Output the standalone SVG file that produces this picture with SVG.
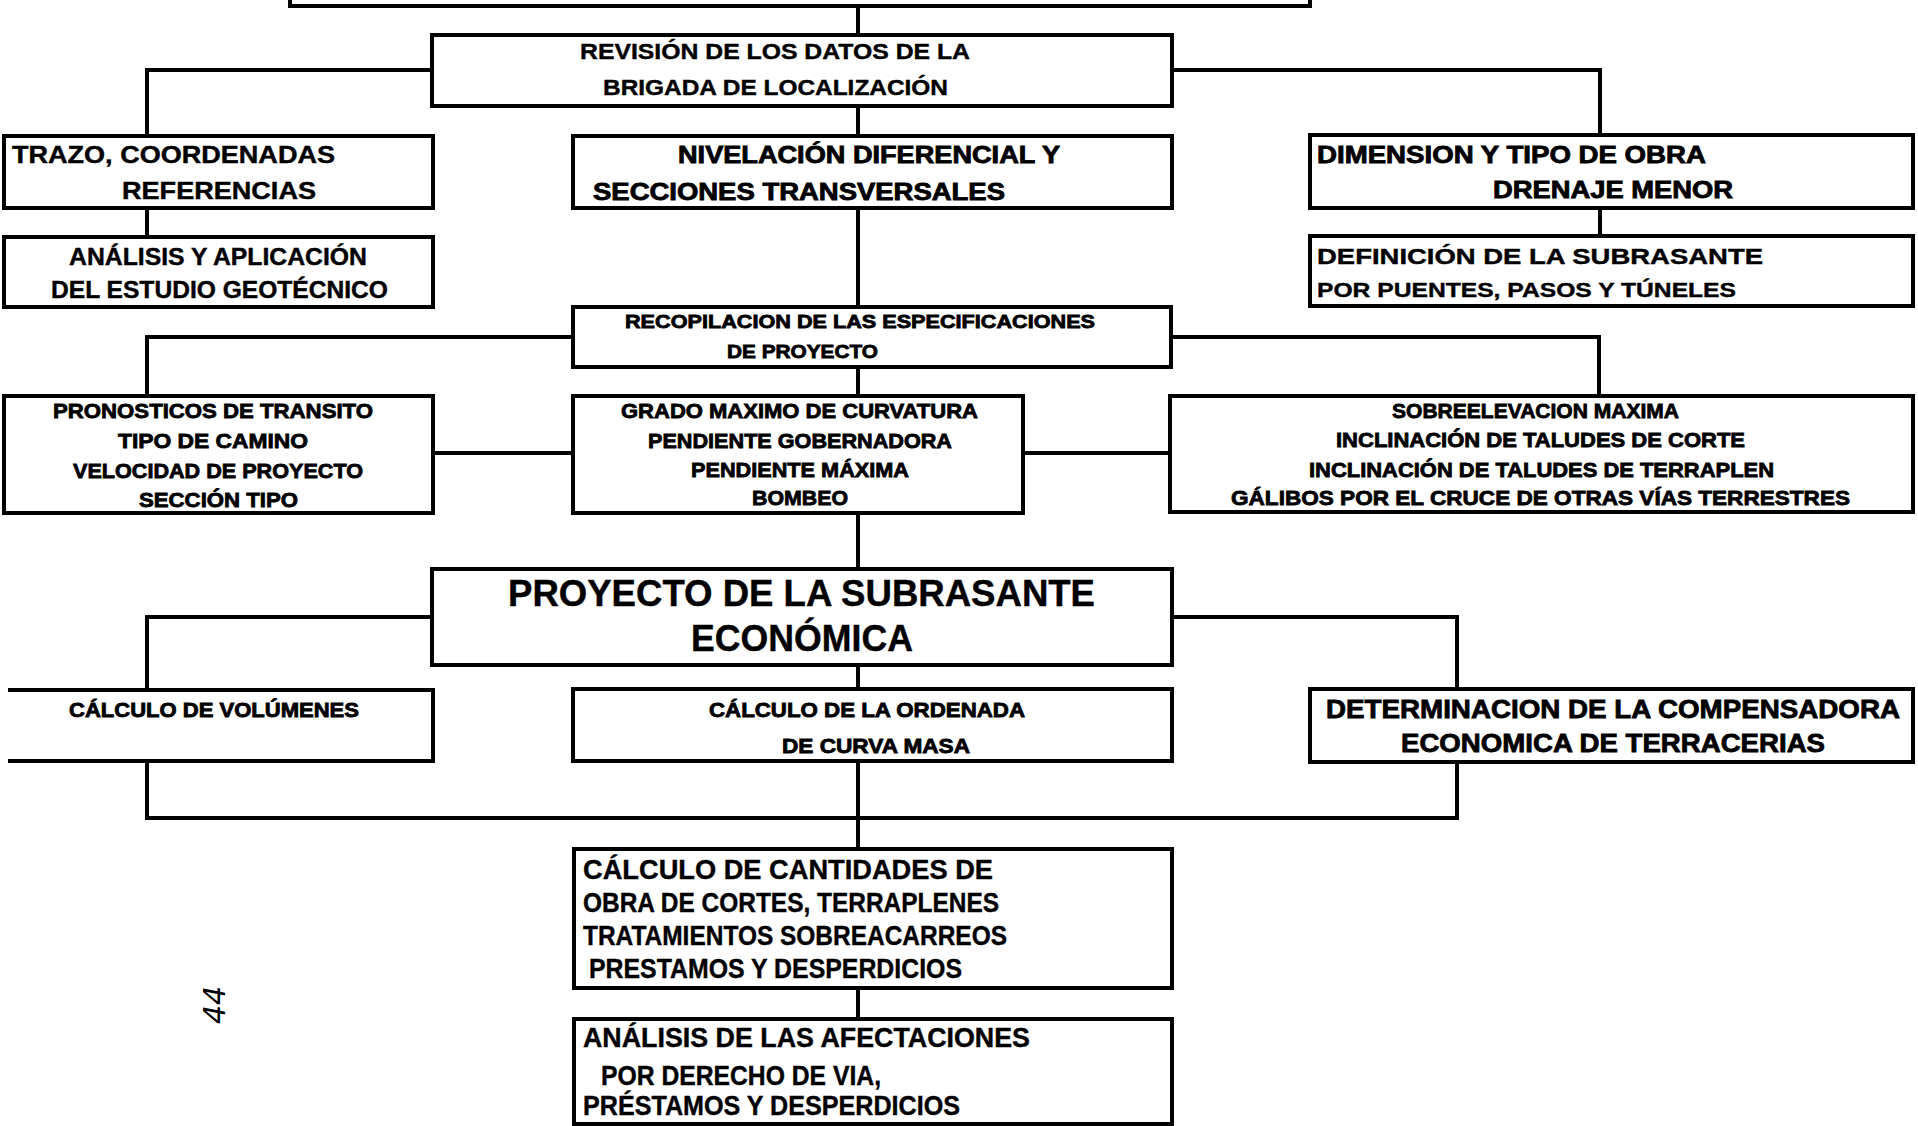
<svg xmlns="http://www.w3.org/2000/svg" width="1918" height="1126" viewBox="0 0 1918 1126">
<style>
.box{fill:#fff;stroke:#000;stroke-width:4}
.ln{fill:none;stroke:#000;stroke-width:4}
text{font-family:"Liberation Sans",Arial,sans-serif;font-weight:bold;fill:#000}
.f22{font-size:23px}.f21{font-size:22px}.f20{font-size:21px}.f18{font-size:19px}.f19{font-size:20px}
.f25{font-size:26px}.f26{font-size:27px}.f36{font-size:37px}
.hv{stroke:#000;stroke-width:0.8}
.md{stroke:#000;stroke-width:0.4}
.hand{font-family:"DejaVu Sans",sans-serif;font-weight:normal;font-style:italic;font-size:30px}
</style>
<rect width="1918" height="1126" fill="#fff"/>
<g id="connectors">
<path class="ln" d="M858,6V35M858,106V136M858,208V307M858,367V396M858,513V569M858,665V689M858,761V849M858,988V1019"/>
<path class="ln" d="M432,70H147V136M1172,70H1600V135"/>
<path class="ln" d="M147,208V237M1600,208V236"/>
<path class="ln" d="M573,337H147V396M1171,337H1599V396"/>
<path class="ln" d="M433,453H573M1023,453H1170"/>
<path class="ln" d="M432,617H147V690M1172,617H1457V689"/>
<path class="ln" d="M147,761V818H1457V762"/>
</g>
<g id="top"><rect class="box" x="290" y="-20" width="1020" height="26"/></g>
<g id="revision"><rect class="box" x="432" y="35" width="740" height="71"/>
<text class="f21 md" x="580" y="59" textLength="390" lengthAdjust="spacingAndGlyphs">REVISIÓN DE LOS DATOS DE LA</text>
<text class="f21 md" x="603" y="95" textLength="345" lengthAdjust="spacingAndGlyphs">BRIGADA DE LOCALIZACIÓN</text></g>
<g id="trazo"><rect class="box" x="4" y="136" width="429" height="72"/>
<text class="f22 md" x="12" y="163" textLength="323" lengthAdjust="spacingAndGlyphs">TRAZO, COORDENADAS</text>
<text class="f22 md" x="122" y="199" textLength="194" lengthAdjust="spacingAndGlyphs">REFERENCIAS</text></g>
<g id="nivelacion"><rect class="box" x="573" y="136" width="599" height="72"/>
<text class="f22 hv" x="678" y="163" textLength="382" lengthAdjust="spacingAndGlyphs">NIVELACIÓN DIFERENCIAL Y</text>
<text class="f22 hv" x="593" y="200" textLength="412" lengthAdjust="spacingAndGlyphs">SECCIONES TRANSVERSALES</text></g>
<g id="dimension"><rect class="box" x="1310" y="135" width="603" height="73"/>
<text class="f22 hv" x="1317" y="163" textLength="389" lengthAdjust="spacingAndGlyphs">DIMENSION Y TIPO DE OBRA</text>
<text class="f22 hv" x="1493" y="198" textLength="240" lengthAdjust="spacingAndGlyphs">DRENAJE MENOR</text></g>
<g id="analisis"><rect class="box" x="4" y="237" width="429" height="70"/>
<text class="f22 md" x="69" y="265" textLength="298" lengthAdjust="spacingAndGlyphs">ANÁLISIS Y APLICACIÓN</text>
<text class="f22 md" x="51" y="298" textLength="337" lengthAdjust="spacingAndGlyphs">DEL ESTUDIO GEOTÉCNICO</text></g>
<g id="definicion"><rect class="box" x="1310" y="236" width="603" height="70"/>
<text class="f21 md" x="1317" y="264" textLength="446" lengthAdjust="spacingAndGlyphs">DEFINICIÓN DE LA SUBRASANTE</text>
<text class="f20 md" x="1317" y="297" textLength="419" lengthAdjust="spacingAndGlyphs">POR PUENTES, PASOS Y TÚNELES</text></g>
<g id="recopilacion"><rect class="box" x="573" y="307" width="598" height="60"/>
<text class="f18 hv" x="625" y="328" textLength="470" lengthAdjust="spacingAndGlyphs">RECOPILACION DE LAS ESPECIFICACIONES</text>
<text class="f18 hv" x="727" y="358" textLength="151" lengthAdjust="spacingAndGlyphs">DE PROYECTO</text></g>
<g id="pronosticos"><rect class="box" x="4" y="396" width="429" height="117"/>
<text class="f20 hv" x="53" y="418" textLength="320" lengthAdjust="spacingAndGlyphs">PRONOSTICOS  DE TRANSITO</text>
<text class="f20 hv" x="118" y="448" textLength="190" lengthAdjust="spacingAndGlyphs">TIPO DE CAMINO</text>
<text class="f20 hv" x="73" y="478" textLength="290" lengthAdjust="spacingAndGlyphs">VELOCIDAD DE PROYECTO</text>
<text class="f20 hv" x="139" y="507" textLength="159" lengthAdjust="spacingAndGlyphs">SECCIÓN TIPO</text></g>
<g id="grado"><rect class="box" x="573" y="396" width="450" height="117"/>
<text class="f20 hv" x="621" y="418" textLength="357" lengthAdjust="spacingAndGlyphs">GRADO MAXIMO DE CURVATURA</text>
<text class="f20 hv" x="648" y="448" textLength="304" lengthAdjust="spacingAndGlyphs">PENDIENTE GOBERNADORA</text>
<text class="f20 hv" x="691" y="477" textLength="218" lengthAdjust="spacingAndGlyphs">PENDIENTE MÁXIMA</text>
<text class="f20 hv" x="752" y="505" textLength="96" lengthAdjust="spacingAndGlyphs">BOMBEO</text></g>
<g id="sobreelevacion"><rect class="box" x="1170" y="396" width="743" height="116"/>
<text class="f20 hv" x="1392" y="418" textLength="287" lengthAdjust="spacingAndGlyphs">SOBREELEVACION MAXIMA</text>
<text class="f20 hv" x="1336" y="447" textLength="409" lengthAdjust="spacingAndGlyphs">INCLINACIÓN DE TALUDES DE CORTE</text>
<text class="f20 hv" x="1309" y="477" textLength="465" lengthAdjust="spacingAndGlyphs">INCLINACIÓN DE TALUDES DE TERRAPLEN</text>
<text class="f20 hv" x="1231" y="505" textLength="619" lengthAdjust="spacingAndGlyphs">GÁLIBOS  POR EL CRUCE DE OTRAS  VÍAS TERRESTRES</text></g>
<g id="proyecto"><rect class="box" x="432" y="569" width="740" height="96"/>
<text class="f36 md" x="508" y="606" textLength="587" lengthAdjust="spacingAndGlyphs">PROYECTO DE LA  SUBRASANTE</text>
<text class="f36 md" x="691" y="651" textLength="222" lengthAdjust="spacingAndGlyphs">ECONÓMICA</text></g>
<g id="volumenes"><rect x="8" y="690" width="425" height="71" fill="#fff"/>
<path class="ln" d="M8,690H433V761H8"/>
<text class="f19 hv" x="69" y="717" textLength="290" lengthAdjust="spacingAndGlyphs">CÁLCULO DE VOLÚMENES</text></g>
<g id="ordenada"><rect class="box" x="573" y="689" width="599" height="72"/>
<text class="f19 hv" x="709" y="717" textLength="316" lengthAdjust="spacingAndGlyphs">CÁLCULO DE  LA ORDENADA</text>
<text class="f19 hv" x="782" y="753" textLength="188" lengthAdjust="spacingAndGlyphs">DE  CURVA MASA</text></g>
<g id="determinacion"><rect class="box" x="1310" y="689" width="603" height="73"/>
<text class="f25 hv" x="1326" y="718" textLength="574" lengthAdjust="spacingAndGlyphs">DETERMINACION DE LA COMPENSADORA</text>
<text class="f25 hv" x="1401" y="752" textLength="424" lengthAdjust="spacingAndGlyphs">ECONOMICA DE TERRACERIAS</text></g>
<g id="cantidades"><rect class="box" x="574" y="849" width="598" height="139"/>
<text class="f26 md" x="583" y="879" textLength="410" lengthAdjust="spacingAndGlyphs">CÁLCULO DE CANTIDADES DE</text>
<text class="f26 md" x="583" y="912" textLength="416" lengthAdjust="spacingAndGlyphs">OBRA DE CORTES, TERRAPLENES</text>
<text class="f26 md" x="583" y="945" textLength="424" lengthAdjust="spacingAndGlyphs">TRATAMIENTOS SOBREACARREOS</text>
<text class="f26 md" x="589" y="978" textLength="373" lengthAdjust="spacingAndGlyphs">PRESTAMOS Y DESPERDICIOS</text></g>
<g id="afectaciones"><rect class="box" x="574" y="1019" width="598" height="105"/>
<text class="f26 md" x="583" y="1047" textLength="447" lengthAdjust="spacingAndGlyphs">ANÁLISIS DE LAS AFECTACIONES</text>
<text class="f26 md" x="601" y="1085" textLength="280" lengthAdjust="spacingAndGlyphs">POR DERECHO DE VIA,</text>
<text class="f26 md" x="583" y="1115" textLength="377" lengthAdjust="spacingAndGlyphs">PRÉSTAMOS Y DESPERDICIOS</text></g>
<g id="pagemark"><text class="hand" transform="translate(225,1005) rotate(-90)" text-anchor="middle">44</text></g>
</svg>
